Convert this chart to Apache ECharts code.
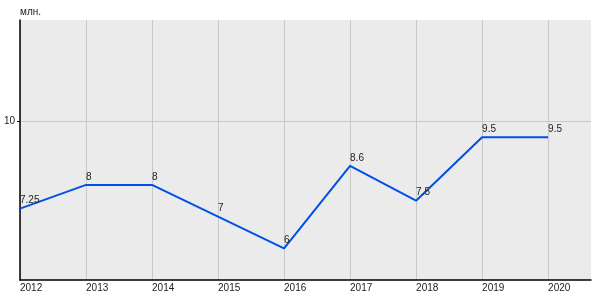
<!DOCTYPE html>
<html>
<head>
<meta charset="utf-8">
<script src="https://cdn.jsdelivr.net/npm/echarts@6/dist/echarts.min.js"></script>
<style>html,body{margin:0;padding:0;background:#fff}#c{width:600px;height:300px}</style>
</head>
<body>
<div id="c"></div>
<script>
const years = [2012, 2013, 2014, 2015, 2016, 2017, 2018, 2019, 2020];
const values = [7.25, 8, 8, 7, 6, 8.6, 7.5, 9.5, 9.5];
const valueLabels = ['7.25', '8', '8', '7', '6', '8.6', '7.5', '9.5', '9.5'];
const yTicks = [10];
const unitLabel = 'млн.';

const chart = echarts.init(document.getElementById('c'), null, {renderer: 'canvas'});
const font = 'Arial, "Liberation Sans", sans-serif';
chart.setOption({
  animation: false,
  grid: {left: 20, right: 9, top: 20, bottom: 20, show: true, backgroundColor: '#ebebeb', borderWidth: 0},
  xAxis: {
    type: 'value', min: 2012, max: 2020.65, interval: 1,
    axisLine: {show: true, onZero: false, lineStyle: {color: '#000', width: 1.5}},
    axisTick: {show: false, customValues: years},
    axisLabel: {customValues: years, align: 'left', color: '#222', fontSize: 10, fontFamily: font, margin: 3,
      formatter: v => String(Math.round(v))},
    splitLine: {show: true, lineStyle: {color: '#c8c8c8', width: 1}}
  },
  yAxis: {
    type: 'value', min: 5, max: 13.2,
    name: unitLabel, nameLocation: 'end', nameGap: 3,
    nameTextStyle: {align: 'left', color: '#222', fontSize: 10, fontFamily: font, padding: [0, 0, 0, 0]},
    axisLine: {show: true, lineStyle: {color: '#000', width: 1.5}},
    axisTick: {show: true, customValues: yTicks, length: 3, lineStyle: {color: '#000'}},
    axisLabel: {customValues: yTicks, color: '#222', fontSize: 10, fontFamily: font, margin: 5},
    splitLine: {show: true, lineStyle: {color: '#c8c8c8', width: 1}}
  },
  series: [{
    type: 'line',
    data: years.map((y, i) => [y, values[i]]),
    symbol: 'circle', symbolSize: 0, showSymbol: true,
    lineStyle: {color: '#0050e6', width: 2},
    itemStyle: {color: '#0050e6'},
    label: {show: true, position: 'top', align: 'left', distance: 3, color: '#222', fontSize: 10, fontFamily: font,
      formatter: p => valueLabels[p.dataIndex]}
  }]
});
</script>
</body>
</html>
